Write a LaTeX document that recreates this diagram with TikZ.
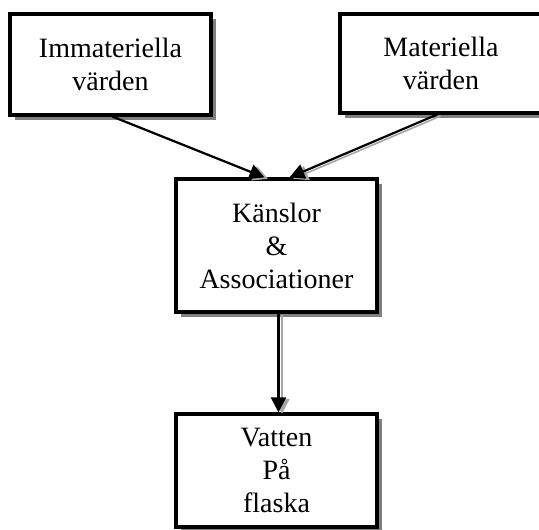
\documentclass[tikz,border=0pt]{standalone}
\usepackage{fontspec}
\setmainfont{Liberation Serif}
\usetikzlibrary{shadows,arrows.meta,calc}
\tikzstyle{valuebox} = [draw=black, fill=white, line width=3.2pt, rectangle, align=center, inner sep=0pt, font=\fontsize{28}{33}\selectfont, drop shadow={shadow xshift=5pt, shadow yshift=-5pt, fill=black!50, opacity=1}]
\tikzstyle{flow} = [draw=black, line width=2.2pt, -{Triangle[length=15pt,width=15pt]}, preaction={draw=black!35, line width=1.6pt, transform canvas={shift={(3.5pt,-1.5pt)}}}]

\begin{document}
\begin{tikzpicture}[x=1pt, y=-1pt]
\useasboundingbox (0,0) rectangle (539,530);
\fill[white] (0,0) rectangle (539,530);
\node [valuebox, minimum width=201pt, minimum height=101pt] (imm) at (110.5,64.5) {Immateriella\\värden};
\node [valuebox, minimum width=202pt, minimum height=99pt] (mat) at (441,63.5) {Materiella\\värden};
\node [valuebox, minimum width=201pt, minimum height=133pt] (kan) at (276.5,245.5) {Känslor\\\&\\Associationer};
\node [valuebox, minimum width=201pt, minimum height=113pt] (vat) at (276.5,470.5) {Vatten\\På\\flaska};
\draw [flow] ($(imm.south)+(2,0)$) -- ($(kan.north)+(-12,0)$);
\draw [flow] ($(mat.south)+(-4,0)$) -- ($(kan.north)+(13,0)$);
\draw [flow] ($(kan.south)+(2,0)$) -- ($(vat.north)+(2,0)$);
\end{tikzpicture}
\end{document}
